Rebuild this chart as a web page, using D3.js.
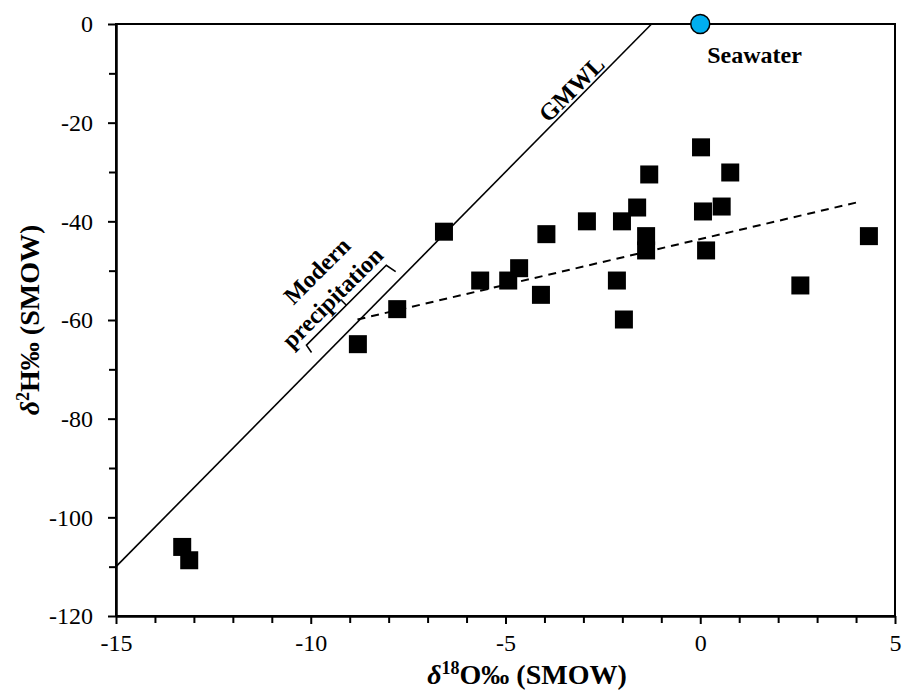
<!DOCTYPE html>
<html>
<head>
<meta charset="utf-8">
<script src="https://cdn.jsdelivr.net/npm/d3@7"></script>
<style>
  body { margin: 0; background: #fff; }
  svg { display: block; font-family: "Times New Roman", "Liberation Serif", serif; }
  .axis path, .axis line { stroke: #000; stroke-width: 2; }
</style>
</head>
<body>
<script>
// sample values
var d18O = [-13.3, -13.12, -8.79, -7.78, -6.58, -5.65, -4.93, -4.65, -4.09, -3.95,
            -2.91, -2.14, -2.01, -1.96, -1.62, -1.39, -1.39, -1.31, 0.02, 0.07,
            0.15, 0.55, 0.77, 2.57, 4.33];
var d2H = [-106, -108.7, -64.9, -57.8, -42.1, -52.0, -52.0, -49.5, -54.9, -42.6,
           -40.0, -52.0, -40.0, -59.9, -37.2, -43.0, -45.9, -30.5, -25.0, -38.0,
           -45.9, -37.0, -30.1, -53.0, -43.0];

// seawater reference point
var seawater = [0, 0];

// global meteoric water line endpoints and the dashed trend line
var gmwlX = [-15, -1.25], gmwlY = [-110, 0];
var trendX = [-8.8, 4.0], trendY = [-59.9, -36.2];

// axis ticks
var xTicks = [-15, -10, -5, 0, 5];
var xMinor = [-14, -13, -12, -11, -9, -8, -7, -6, -4, -3, -2, -1, 1, 2, 3, 4];
var yTicks = [-120, -100, -80, -60, -40, -20, 0];
var yMinor = [-110, -90, -70, -50, -30, -10];

var width = 903, height = 693;
var margin = {left: 116, right: 8, top: 24, bottom: 77};
var serif = "'Times New Roman', 'Liberation Serif', serif";

var svg = d3.select("body").append("svg")
    .attr("width", width)
    .attr("height", height);

var x = d3.scaleLinear().domain([-15, 5]).range([margin.left, width - margin.right]);
var y = d3.scaleLinear().domain([-120, 0]).range([height - margin.bottom, margin.top]);

//plain hyphen labels like the original
var fmt = function(d){ return String(d); };

//minor ticks first
svg.append("g").attr("class", "axis")
    .attr("transform", "translate(0," + y(-120) + ")")
    .call(d3.axisBottom(x).tickValues(xMinor).tickSize(7).tickSizeOuter(0).tickFormat(""));
svg.append("g").attr("class", "axis")
    .attr("transform", "translate(" + x(-15) + ",0)")
    .call(d3.axisLeft(y).tickValues(yMinor).tickSize(7).tickSizeOuter(0).tickFormat(""));

//major ticks with labels
var xAxis = svg.append("g").attr("class", "axis")
    .attr("transform", "translate(0," + y(-120) + ")")
    .call(d3.axisBottom(x).tickValues(xTicks).tickSize(8).tickSizeOuter(0).tickPadding(10).tickFormat(fmt));
var yAxis = svg.append("g").attr("class", "axis")
    .attr("transform", "translate(" + x(-15) + ",0)")
    .call(d3.axisLeft(y).tickValues(yTicks).tickSize(8).tickSizeOuter(0).tickPadding(15).tickFormat(fmt));
[xAxis, yAxis].forEach(function(g){
    g.attr("font-family", serif).attr("font-size", 24);
    g.selectAll("text").attr("fill", "#000");
});

//plot frame
svg.append("rect")
    .attr("x", x(-15)).attr("y", y(0))
    .attr("width", x(5) - x(-15)).attr("height", y(-120) - y(0))
    .attr("fill", "none").attr("stroke", "#000").attr("stroke-width", 2);

var line = d3.line().x(function(d){ return x(d[0]); }).y(function(d){ return y(d[1]); });

//GMWL
svg.append("path")
    .datum(d3.zip(gmwlX, gmwlY))
    .attr("d", line)
    .attr("fill", "none").attr("stroke", "#000").attr("stroke-width", 1.6);

//trend line
svg.append("path")
    .datum(d3.zip(trendX, trendY))
    .attr("d", line)
    .attr("fill", "none").attr("stroke", "#000").attr("stroke-width", 2)
    .attr("stroke-dasharray", "8,6");

//samples
var sq = 18;
svg.selectAll(".pt")
    .data(d3.zip(d18O, d2H))
    .enter()
    .append("rect")
    .attr("class", "pt")
    .attr("x", function(d){ return x(d[0]) - sq / 2; })
    .attr("y", function(d){ return y(d[1]) - sq / 2; })
    .attr("width", sq).attr("height", sq)
    .attr("fill", "#000");

//seawater
svg.append("circle")
    .attr("cx", x(seawater[0])).attr("cy", y(seawater[1]))
    .attr("r", 9.5)
    .attr("fill", "#00aeef").attr("stroke", "#000").attr("stroke-width", 1.5);
svg.append("text")
    .attr("x", x(seawater[0]) + 7).attr("y", y(seawater[1]) + 39)
    .attr("font-size", 24).attr("font-weight", "bold")
    .text("Seawater");

//GMWL label
svg.append("text")
    .attr("transform", "translate(" + x(-3.3) + "," + y(-13.2) + ") rotate(-45)")
    .attr("text-anchor", "middle").attr("dominant-baseline", "central")
    .attr("font-size", 24).attr("font-weight", "bold")
    .text("GMWL");

//modern precipitation bracket
var bracket = [[-9.98, -66.6], [-10.11, -65.1], [-8.06, -48.9], [-7.82, -50.2]];
svg.append("path")
    .datum(bracket)
    .attr("d", line)
    .attr("fill", "none").attr("stroke", "#000").attr("stroke-width", 1.6);
var mid = [x(-9.085), y(-57.0)];
svg.append("line")
    .attr("x1", mid[0]).attr("y1", mid[1])
    .attr("x2", mid[0] - 5).attr("y2", mid[1] - 5)
    .attr("stroke", "#000").attr("stroke-width", 1.6);

var lab = svg.append("g")
    .attr("transform", "translate(" + x(-9.62) + "," + y(-52.9) + ") rotate(-45)")
    .attr("font-size", 24).attr("font-weight", "bold")
    .attr("text-anchor", "middle");
lab.append("text").attr("x", 4).attr("y", -8).text("Modern");
lab.append("text").attr("x", -4).attr("y", 22).text("precipitation");

//axis titles
var xt = svg.append("text")
    .attr("x", 527).attr("y", 684)
    .attr("text-anchor", "middle")
    .attr("font-size", 28).attr("font-weight", "bold");
xt.append("tspan").attr("font-style", "italic").text("δ");
xt.append("tspan").attr("font-size", 18).attr("dy", -10).text("18");
xt.append("tspan").attr("dy", 10).text("O‰ (SMOW)");

var yt = svg.append("text")
    .attr("transform", "translate(39," + ((y(0) + y(-120)) / 2) + ") rotate(-90)")
    .attr("text-anchor", "middle")
    .attr("font-size", 28).attr("font-weight", "bold");
yt.append("tspan").attr("font-style", "italic").text("δ");
yt.append("tspan").attr("font-size", 18).attr("dy", -10).text("2");
yt.append("tspan").attr("dy", 10).text("H‰ (SMOW)");
</script>
</body>
</html>
